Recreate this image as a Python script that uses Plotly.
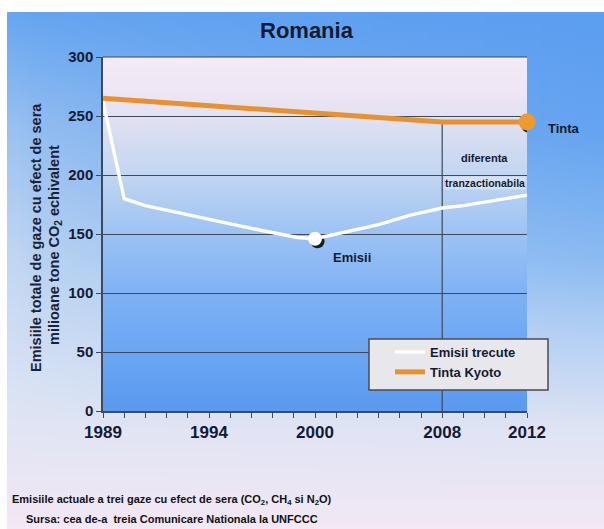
import base64
import struct
import zlib

import numpy as np
import plotly.graph_objects as go

# ---------------- data ----------------
years = list(range(1989, 2013))
emisii_trecute = [262, 180, 174, 170, 166, 162, 159, 156, 153, 150, 147, 146,
                  149, 152, 155, 158, 162, 166, 169, 172, 174, 177, 180, 183]
kyoto_years = [1989, 2008, 2012]
tinta_kyoto = [265, 245, 245]

tick_years = [1989, 1994, 2000, 2008, 2012]
tick_labels = ["1989", "1994", "2000", "2008", "2012"]
# the original axis is schematic: tick-mark index at which each labelled year sits
tick_index = [0, 5, 10, 16, 20]

marked_year_emisii = 2000
marked_year_tinta = 2012
prag_year = 2008


def xpos(yr):
    return np.interp(yr, tick_years, tick_index)


# ---------------- geometry helpers ----------------
W, H = 604, 529
L, R, T, B = 103, 527, 57, 411


def px(x):
    return (x - L) / (R - L)


def py(y):
    return (B - y) / (B - T)


def hex2rgb(h):
    h = h.lstrip("#")
    return np.array([int(h[i:i + 2], 16) for i in (0, 2, 4)], dtype=float)


def png_uri(arr):
    arr = np.clip(arr, 0, 255).astype(np.uint8)
    h, w, _ = arr.shape
    raw = b"".join(b"\x00" + arr[r].tobytes() for r in range(h))

    def chunk(t, d):
        return (struct.pack(">I", len(d)) + t + d
                + struct.pack(">I", zlib.crc32(t + d) & 0xFFFFFFFF))

    png = (b"\x89PNG\r\n\x1a\n"
           + chunk(b"IHDR", struct.pack(">IIBBBBB", w, h, 8, 2, 0, 0, 0))
           + chunk(b"IDAT", zlib.compress(raw, 9))
           + chunk(b"IEND", b""))
    return "data:image/png;base64," + base64.b64encode(png).decode()


def column(stops, ys):
    pos = [s[0] for s in stops]
    cols = np.array([hex2rgb(s[1]) for s in stops])
    return np.stack([np.interp(ys, pos, cols[:, k]) for k in range(3)], axis=1)


# paper background gradient (image area x 7..604, y 12..529)
bx0, by0 = 7, 12
gh, gw = 64, 32
ys = np.linspace(by0, H, gh)
left = column([(12, "#68a7f0"), (130, "#9cc2f0"), (260, "#c2d7f2"),
               (400, "#dce4f4"), (529, "#f4e8f4")], ys)
right = column([(12, "#5c9ef0"), (130, "#66a5f0"), (260, "#8dbcf2"),
                (330, "#b2cff3"), (430, "#dfe4f4"), (529, "#f3e8f4")], ys)
wx = np.linspace(0, 1, gw) ** 0.6
paper_img = left[:, None, :] * (1 - wx)[None, :, None] + right[:, None, :] * wx[None, :, None]

# plot area gradient
ys2 = np.linspace(300, 0, gh)
pcol = column([(0, "#5a9bf0"), (50, "#6ca7f3"), (100, "#80b3f4"), (150, "#9dc3f4"),
               (200, "#c2d6f2"), (250, "#e2e2f2"), (270, "#eee6f4"), (300, "#f5ebf6")], ys2)
plot_img = np.repeat(pcol[:, None, :], 8, axis=1)

TXT = "#141a33"
GRID = "#3c4a5c"
ORANGE = "#E8912F"
FONT = "Liberation Sans, Arial, sans-serif"

fig = go.Figure()

fig.add_trace(go.Scatter(
    x=xpos(years), y=emisii_trecute, mode="lines", name="Emisii trecute",
    line=dict(color="white", width=3.4), hoverinfo="skip"))
fig.add_trace(go.Scatter(
    x=xpos(kyoto_years), y=tinta_kyoto, mode="lines", name="Tinta Kyoto",
    line=dict(color=ORANGE, width=5), hoverinfo="skip"))

ye = emisii_trecute[years.index(marked_year_emisii)]
yt = tinta_kyoto[kyoto_years.index(marked_year_tinta)]
fig.add_trace(go.Scatter(
    x=[float(xpos(marked_year_emisii))], y=[ye], mode="markers", showlegend=False,
    marker=dict(color="white", size=14, line=dict(width=0)), cliponaxis=False))
fig.add_trace(go.Scatter(
    x=[float(xpos(marked_year_tinta))], y=[yt], mode="markers", showlegend=False,
    marker=dict(color="#EE9A2E", size=17, line=dict(width=0)), cliponaxis=False))

shapes = []
# shadows of the two marker dots
for xv, yv, d in [(float(xpos(marked_year_emisii)), ye, 14), (float(xpos(marked_year_tinta)), yt, 17)]:
    shapes.append(dict(type="circle", layer="between", xref="x", yref="y",
                       xsizemode="pixel", ysizemode="pixel", xanchor=xv, yanchor=yv,
                       x0=-d / 2 + 2.5, x1=d / 2 + 2.5, y0=-d / 2 - 2.5, y1=d / 2 - 2.5,
                       fillcolor="#1a1a22", line=dict(width=0)))
# vertical line at 2008
y2008 = float(np.interp(prag_year, kyoto_years, tinta_kyoto))
shapes.append(dict(type="line", layer="between", xref="x", yref="y",
                   x0=float(xpos(prag_year)), x1=float(xpos(prag_year)), y0=0, y1=y2008,
                   line=dict(color=GRID, width=1.2)))
# top frame line
shapes.append(dict(type="line", layer="between", xref="paper", yref="paper",
                   x0=0, x1=1, y0=1, y1=1, line=dict(color=GRID, width=1.2)))
# legend box
shapes.append(dict(type="rect", layer="above", xref="paper", yref="paper",
                   x0=px(369), x1=px(548), y0=py(390), y1=py(339),
                   fillcolor="#e8e8ec", line=dict(color="#4a4a52", width=1.5)))

images = [
    dict(source=png_uri(paper_img), xref="paper", yref="paper",
         x=px(bx0), y=py(by0), sizex=px(W) - px(bx0), sizey=py(by0) - py(H),
         sizing="stretch", layer="below", xanchor="left", yanchor="top"),
    dict(source=png_uri(plot_img), xref="paper", yref="paper",
         x=0, y=1, sizex=1, sizey=1, sizing="stretch", layer="below",
         xanchor="left", yanchor="top"),
]


def bold(size, color=TXT):
    return dict(family=FONT, size=size, color=color, weight="bold")


ann = []
ann.append(dict(text="Romania", xref="paper", yref="paper", x=px(307), y=py(31),
                xanchor="center", yanchor="middle", showarrow=False, font=bold(22)))
ann.append(dict(text="Emisiile totale de gaze cu efect de sera", xref="paper", yref="paper",
                x=px(36), y=py(238), xanchor="center", yanchor="middle", textangle=-90,
                showarrow=False, font=bold(14.5, "#1a2235")))
ann.append(dict(text="milioane tone CO<sub>2</sub> echivalent", xref="paper", yref="paper",
                x=px(55), y=py(245), xanchor="center", yanchor="middle", textangle=-90,
                showarrow=False, font=bold(14.5, "#1a2235")))
ann.append(dict(text="Tinta", xref="x", yref="y", x=float(xpos(marked_year_tinta)), y=yt,
                xanchor="left", yanchor="middle", xshift=19, yshift=-7, showarrow=False,
                font=bold(13)))
ann.append(dict(text="Emisii", xref="x", yref="y", x=float(xpos(marked_year_emisii)), y=ye,
                xanchor="left", yanchor="middle", xshift=16, yshift=-19, showarrow=False,
                font=bold(13)))
ann.append(dict(text="diferenta", xref="x", yref="y", x=18, y=214, showarrow=False,
                xanchor="center", yanchor="middle", font=bold(11)))
ann.append(dict(text="tranzactionabila", xref="x", yref="y", x=18, y=193, showarrow=False,
                xanchor="center", yanchor="middle", bgcolor="rgba(232,236,246,0.55)",
                borderpad=0, font=bold(10.5)))
ann.append(dict(text="Emisiile actuale a trei gaze cu efect de sera (CO<sub>2</sub>, CH<sub>4</sub> si N<sub>2</sub>O)",
                xref="paper", yref="paper", x=px(10), y=py(500), xanchor="left", yanchor="middle",
                showarrow=False, font=bold(11, "#111")))
ann.append(dict(text="Sursa: cea de-a  treia Comunicare Nationala la UNFCCC",
                xref="paper", yref="paper", x=px(24), y=py(519), xanchor="left", yanchor="middle",
                showarrow=False, font=bold(11, "#111")))

fig.update_layout(
    width=W, height=H,
    margin=dict(l=L, r=W - R, t=T, b=H - B),
    paper_bgcolor="white", plot_bgcolor="rgba(0,0,0,0)",
    shapes=shapes, images=images, annotations=ann,
    showlegend=True,
    legend=dict(x=px(390), y=py(337), xanchor="left", yanchor="top",
                bgcolor="rgba(0,0,0,0)", borderwidth=0, tracegroupgap=0,
                font=bold(13)),
    xaxis=dict(range=[0, 20], tickvals=tick_index, ticktext=tick_labels,
               ticks="outside", ticklen=5, tickcolor=GRID, tickwidth=1.2,
               showline=True, linecolor=GRID, linewidth=1.5, showgrid=False, zeroline=False,
               minor=dict(dtick=1, tick0=0, ticks="outside", ticklen=5, tickcolor=GRID, tickwidth=1.2,
                          showgrid=False),
               tickfont=bold(17)),
    yaxis=dict(range=[0, 300], dtick=50, ticks="outside", ticklen=5, tickcolor=GRID, tickwidth=1.2,
               showline=True, linecolor=GRID, linewidth=1.5, showgrid=True, gridcolor=GRID,
               gridwidth=1.2, zeroline=False, tickfont=bold(15)),
)

fig.write_html("out.html")
